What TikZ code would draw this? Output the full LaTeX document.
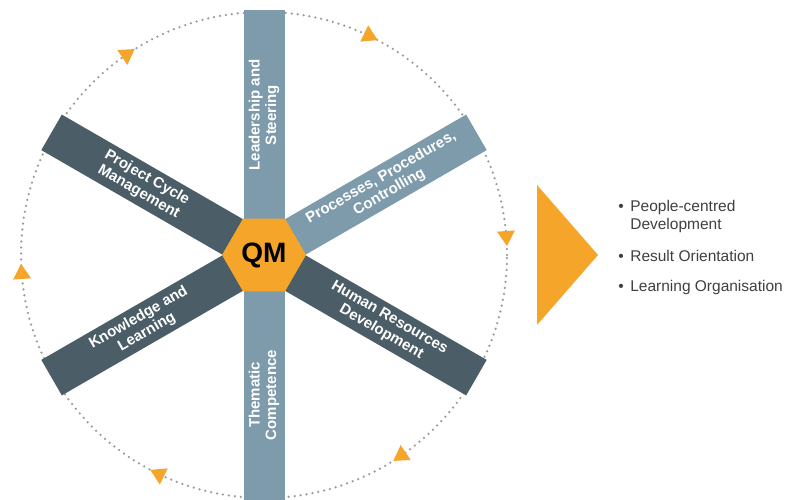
\documentclass[tikz,border=0pt]{standalone}
\usepackage{fontspec}
\setmainfont{Liberation Sans}
\usetikzlibrary{shapes.geometric,positioning}

\definecolor{qmorange}{HTML}{F4A52A}
\definecolor{lightbar}{HTML}{7E9BAB}
\definecolor{darkbar}{HTML}{4B5E68}
\definecolor{dotgray}{HTML}{9A9A9A}
\definecolor{itemgray}{HTML}{3F3F3F}

\begin{document}
\begin{tikzpicture}[x=1pt,y=1pt,semithick]
\tikzstyle{every node}=[font=\bfseries\fontsize{15}{16.5}\selectfont,inner sep=0pt]
\tikzstyle{bar}=[rectangle,minimum width=245pt,minimum height=41pt,anchor=west]
\tikzstyle{light}=[bar,fill=lightbar]
\tikzstyle{dark}=[bar,fill=darkbar]
\tikzstyle{barlabel}=[text=white,align=center]
\tikzstyle{ring}=[draw=dotgray,line width=2.5pt,dash pattern=on 0pt off 6pt,line cap=round]
\tikzstyle{item}=[font=\fontsize{15.5}{17}\selectfont,text=itemgray,text height=11pt,text depth=3pt,anchor=west]

\useasboundingbox (0,0) rectangle (789,500);
\coordinate (c) at (264,245);
\draw[ring] (c) circle (243pt);

% the six spokes
\node [light,rotate=90] (lead) at (c) {};
\node [light,rotate=30] (proc) at (c) {};
\node [dark,rotate=-30] (hrd) at (c) {};
\node [light,rotate=270] (them) at (c) {};
\node [dark,rotate=210] (know) at (c) {};
\node [dark,rotate=150] (pcm) at (c) {};

\node [regular polygon,regular polygon sides=6,minimum size=84pt,fill=qmorange,
       font=\bfseries\fontsize{28}{28}\selectfont] (qm) at (c) {QM};

\node [barlabel,rotate=90] (leadtext) at ([shift={(90:140)}]c) {Leadership and\\Steering};
\node [barlabel,rotate=30] (proctext) at ([shift={(30:140)}]c) {Processes, Procedures,\\Controlling};
\node [barlabel,rotate=-30] (hrdtext) at ([shift={(-30:140)}]c) {Human Resources\\Development};
\node [barlabel,rotate=90] (themtext) at ([shift={(270:140)}]c) {Thematic\\Competence};
\node [barlabel,rotate=30] (knowtext) at ([shift={(210:140)}]c) {Knowledge and\\Learning};
\node [barlabel,rotate=-30] (pcmtext) at ([shift={(150:140)}]c) {Project Cycle\\Management};

% arrow heads on the ring, clockwise
\foreach \a in {4,64,124,184,244,304}
  \fill [qmorange,shift={(c)},rotate=\a] (243,-8) -- (252,7) -- (234,7) -- cycle;

\fill [qmorange] (537,315) -- (598,245) -- (537,175) -- cycle;

\node [item] (people) at (630,292) {People-centred};
\node [item,below=3pt of people.south west,anchor=north west] (devel) {Development};
\node [item,below=17pt of devel.south west,anchor=north west] (result) {Result Orientation};
\node [item,below=16pt of result.south west,anchor=north west] (learn) {Learning Organisation};
\node [item,left=6pt of people] (dot1) {•};
\node [item,left=6pt of result] (dot2) {•};
\node [item,left=6pt of learn] (dot3) {•};

\end{tikzpicture}
\end{document}
